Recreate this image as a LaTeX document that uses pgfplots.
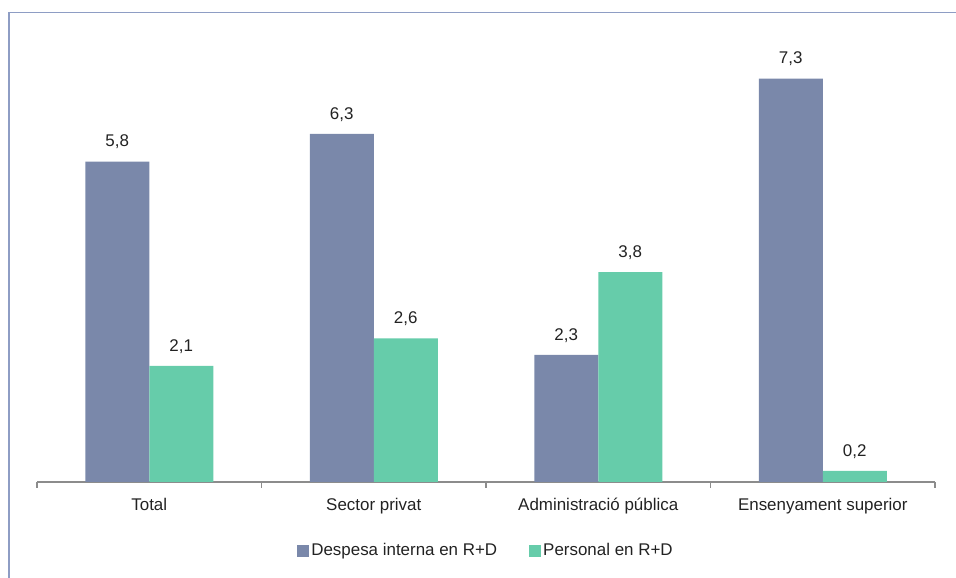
\documentclass[border=0pt]{standalone}
\usepackage{fontspec}
\setmainfont{Liberation Sans}
\usepackage{pgfplots}
\pgfplotsset{compat=1.18}
\definecolor{despesa}{HTML}{7A88AA}
\definecolor{personal}{HTML}{66CCAA}
\definecolor{marc}{HTML}{8E9DC4}
\definecolor{eix}{HTML}{8C8C8C}
\definecolor{text}{HTML}{222222}
\begin{document}
\begin{tikzpicture}[x=1bp,y=1bp]
\useasboundingbox (0,0) rectangle (956,578);
\draw[marc, line width=1.5bp] (9,-5) -- (9,565.5) -- (961,565.5);
\begin{axis}[
  at={(37bp,96bp)}, anchor=south west,
  scale only axis, width=898bp, height=442bp,
  ybar=0pt, bar width=64bp,
  xmin=-0.5, xmax=3.5, ymin=0, ymax=8,
  axis x line*=bottom, axis y line=none,
  x axis line style={eix, line width=1.2bp, -},
  xtick={0,1,2,3},
  xticklabels={Total, Sector privat, Administració pública, Ensenyament superior},
  major tick length=0pt,
  extra x ticks={-0.5,0.5,1.5,2.5,3.5},
  extra x tick labels={},
  extra x tick style={major tick length=6bp, tick align=outside, tick style={eix, line width=1.2bp}},
  ticklabel style={font=\fontsize{17}{20}\selectfont, text=text},
  xticklabel style={yshift=-13bp},
  nodes near coords,
  nodes near coords style={font=\fontsize{17}{20}\selectfont, text=text, yshift=9bp},
  /pgf/number format/.cd, use comma, fixed, fixed zerofill, precision=1, assume math mode=true,
  /pgfplots/.cd,
  legend style={at={(0.5,-0.155)}, anchor=center, draw=none, fill=none,
    font=\fontsize{17}{20}\selectfont, text=text,
    legend columns=2, /tikz/every even column/.append style={column sep=30bp}},
  legend cell align=left,
  legend image code/.code={\fill[#1] (0bp,-6bp) rectangle (12bp,6bp);},
]
\addplot[fill=despesa, draw=none] coordinates {(0,5.8) (1,6.3) (2,2.3) (3,7.3)};
\addplot[fill=personal, draw=none] coordinates {(0,2.1) (1,2.6) (2,3.8) (3,0.2)};
\legend{Despesa interna en R+D, Personal en R+D}
\end{axis}
\end{tikzpicture}
\end{document}
